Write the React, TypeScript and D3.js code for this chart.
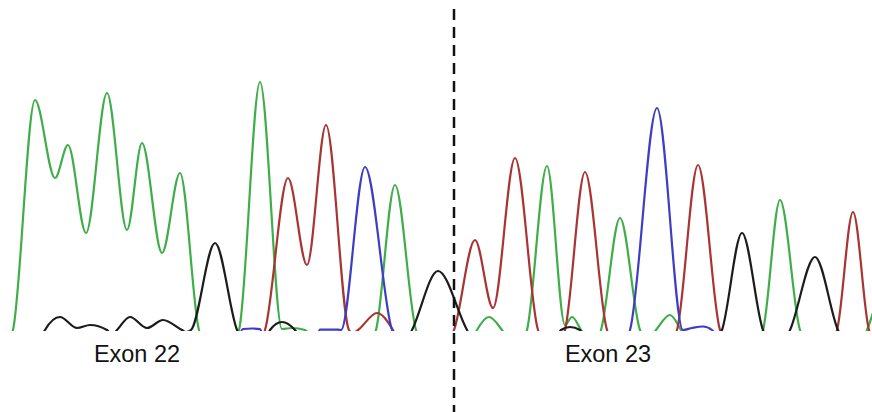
import React, { useRef, useEffect } from 'react';
import * as d3 from 'd3';

type Pt = [number, number];

// trace samples: [scan position, signal]
const greenTrace: Pt[] = [
  [6, -150], [13, 0], [35, 2300], [55, 1520], [68, 1850], [86, 970], [107, 2370],
  [127, 1000], [142, 1870], [162, 770], [180, 1570], [199, 0], [208, -150],
  [230, -150], [239, 0], [260, 2480], [282, 10], [292, 20], [305, 0], [318, -150],
  [368, -150], [376, 0], [395, 1450], [416, 0], [426, -150],
  [470, -150], [477, 0], [489, 130], [502, 0], [512, -150],
  [520, -150], [527, 0], [547, 1640], [565, 50], [572, 130], [581, 0], [590, -150],
  [594, -150], [601, 0], [620, 1120], [640, 0], [648, -100],
  [656, 0], [670, 150], [681, 0], [690, -150],
  [754, -150], [763, 0], [780, 1300], [800, 0], [810, -150],
  [860, -150], [867, 0], [880, 400],
];

const redTrace: Pt[] = [
  [255, -150], [265, 0], [288, 1520], [307, 650], [326, 2050], [349, 0], [353, -30],
  [358, 0], [377, 170], [393, 0], [401, -150],
  [446, -150], [454, 0], [475, 900], [493, 220], [515, 1720], [538, 0], [548, -150],
  [557, -150], [565, 0], [585, 1580], [607, 0], [617, -150],
  [668, -150], [677, 0], [698, 1650], [720, 0], [730, -150],
  [828, -150], [837, 0], [853, 1180], [869, 0], [878, -150],
];

const blueTrace: Pt[] = [
  [238, -100], [243, 10], [252, 15], [260, 8], [266, -150],
  [314, -150], [320, 3], [338, 3], [341, 0], [365, 1630], [392, 0], [400, -150],
  [622, -150], [630, 0], [657, 2220], [683, 0], [692, 20], [703, 35], [712, 0], [720, -150],
];

const blackTrace: Pt[] = [
  [40, -100], [45, 0], [60, 130], [77, 20], [90, 50], [107, 0], [112, -50],
  [117, 0], [130, 130], [147, 20], [163, 100], [182, 0], [186, -20],
  [191, 0], [215, 870], [237, 0], [245, -150],
  [263, -150], [270, 0], [282, 80], [295, 0], [305, -150],
  [404, -150], [412, 0], [438, 590], [467, 0], [476, -150],
  [555, -100], [561, 0], [570, 30], [580, 0], [588, -150],
  [714, -150], [722, 0], [742, 970], [763, 0], [772, -150],
  [782, -150], [790, 0], [815, 730], [838, 0], [846, -150],
];

const traces = [
  { name: 'G', color: '#3fae49', data: greenTrace },
  { name: 'A', color: '#a83434', data: redTrace },
  { name: 'C', color: '#3d3dc6', data: blueTrace },
  { name: 'T', color: '#1c1c1c', data: blackTrace },
];

const exonLabels = [
  { text: 'Exon 22', pos: 137 },
  { text: 'Exon 23', pos: 608 },
];
const exonBoundary = 454;

const App = () => {
  const svgRef = useRef<SVGSVGElement>(null);

  useEffect(() => {
    const width = 872;
    const height = 412;
    const svg = d3.select(svgRef.current);
    svg.selectAll('*').remove();

    svg.attr('width', width).attr('height', height).attr('viewBox', `0 0 ${width} ${height}`);

    const x = d3.scaleLinear().domain([0, 872]).range([0, 872]);
    const y = d3.scaleLinear().domain([0, 2500]).range([330, 80]);

    svg.append('rect').attr('width', width).attr('height', height).attr('fill', '#fff');

    svg.append('clipPath')
      .attr('id', 'trace-clip')
      .append('rect')
      .attr('x', 0)
      .attr('y', 0)
      .attr('width', width)
      .attr('height', y(0) + 1);

    const line = d3.line<Pt>()
      .x(d => x(d[0]))
      .y(d => y(d[1]))
      .curve(d3.curveMonotoneX);

    const g = svg.append('g').attr('clip-path', 'url(#trace-clip)');

    g.selectAll('.trace')
      .data(traces)
      .join('path')
      .attr('class', 'trace')
      .attr('d', d => line(d.data))
      .attr('fill', 'none')
      .attr('stroke', d => d.color)
      .attr('stroke-width', 2.2)
      .attr('stroke-linejoin', 'round');

    // exon boundary
    svg.append('line')
      .attr('x1', x(exonBoundary))
      .attr('x2', x(exonBoundary))
      .attr('y1', 9)
      .attr('y2', height)
      .attr('stroke', '#111')
      .attr('stroke-width', 2.5)
      .attr('stroke-dasharray', '11,7');

    svg.selectAll('.exon-label')
      .data(exonLabels)
      .join('text')
      .attr('class', 'exon-label')
      .attr('x', d => x(d.pos))
      .attr('y', 362)
      .attr('text-anchor', 'middle')
      .attr('font-family', '"Liberation Sans", Arial, sans-serif')
      .attr('font-size', 23.5)
      .attr('fill', '#111')
      .text(d => d.text);
  }, []);

  return (
    <div style={{ position: 'absolute', left: 0, top: 0 }}>
      <svg ref={svgRef} style={{ display: 'block' }}></svg>
    </div>
  );
};

export default App;
